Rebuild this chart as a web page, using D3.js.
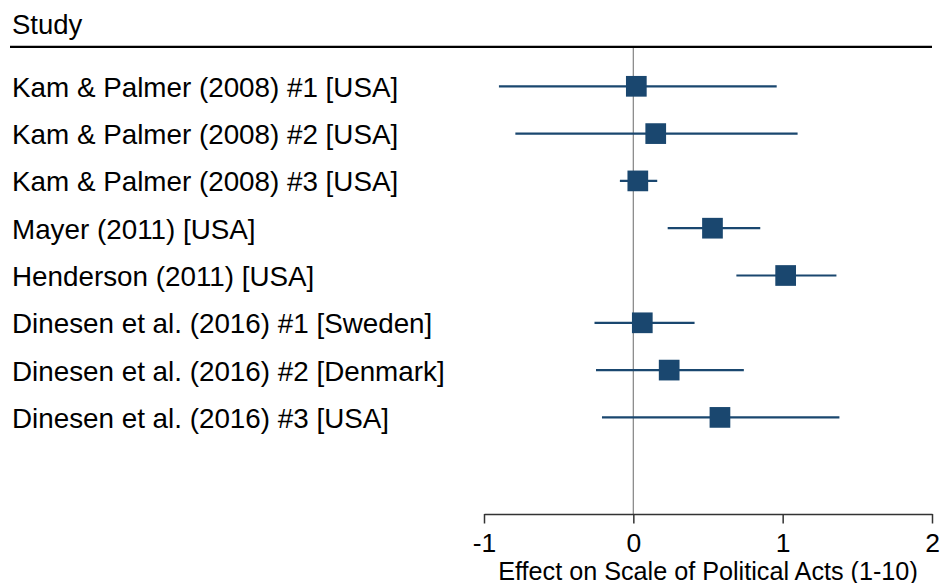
<!DOCTYPE html>
<html>
<head>
<meta charset="utf-8">
<script src="https://cdn.jsdelivr.net/npm/d3@7"></script>
<style>
  html, body { margin: 0; padding: 0; background: #fff; }
  svg { display: block; font-family: "Liberation Sans", Arial, sans-serif; }
</style>
</head>
<body>
<svg id="chart"></svg>
<script>
// study labels, point estimates and confidence bounds
const studies = [
    "Kam & Palmer (2008) #1 [USA]",
    "Kam & Palmer (2008) #2 [USA]",
    "Kam & Palmer (2008) #3 [USA]",
    "Mayer (2011) [USA]",
    "Henderson (2011) [USA]",
    "Dinesen et al. (2016) #1 [Sweden]",
    "Dinesen et al. (2016) #2 [Denmark]",
    "Dinesen et al. (2016) #3 [USA]"
];
const estimates = [0.02, 0.15, 0.03, 0.53, 1.02, 0.06, 0.24, 0.58];
const lower = [-0.90, -0.79, -0.09, 0.23, 0.69, -0.26, -0.25, -0.21];
const upper = [0.96, 1.10, 0.16, 0.85, 1.36, 0.41, 0.74, 1.38];
const xTicks = [-1, 0, 1, 2];

const width = 940, height = 583;
const navy = "#1a476f";

const svg = d3.select("#chart")
    .attr("width", width)
    .attr("height", height);

const x = d3.scaleLinear()
    .domain([-1, 2])
    .range([484, 932]);

// rows 8 and 9 are left empty above the axis
const y = d3.scaleLinear()
    .domain([0, 9])
    .range([86.3, 512]);

const axisY = 514;

// header
svg.append("text")
    .attr("x", 12)
    .attr("y", 33.5)
    .attr("font-size", 27.5)
    .attr("fill", "#000")
    .text("Study");

svg.append("line")
    .attr("x1", 10).attr("x2", 932)
    .attr("y1", 46.8).attr("y2", 46.8)
    .attr("stroke", "#000")
    .attr("stroke-width", 2.2);

// reference line at zero
svg.append("line")
    .attr("x1", x(0)).attr("x2", x(0))
    .attr("y1", 48).attr("y2", axisY)
    .attr("stroke", "#8c8c8c")
    .attr("stroke-width", 1.3);

// study labels
svg.append("g")
    .selectAll("text")
    .data(studies)
    .join("text")
    .attr("x", 12)
    .attr("y", (d, i) => y(i) + 10.5)
    .attr("font-size", 27.8)
    .attr("fill", "#000")
    .text(d => d);

const rows = studies.map((s, i) => ({
    i: i, est: estimates[i], lo: lower[i], hi: upper[i]
}));

// confidence intervals
svg.append("g")
    .selectAll("line")
    .data(rows)
    .join("line")
    .attr("x1", d => x(d.lo))
    .attr("x2", d => x(d.hi))
    .attr("y1", d => y(d.i))
    .attr("y2", d => y(d.i))
    .attr("stroke", navy)
    .attr("stroke-width", 2.2);

// point estimates
const sq = 20.7;
svg.append("g")
    .selectAll("rect")
    .data(rows)
    .join("rect")
    .attr("x", d => x(d.est) - sq / 2)
    .attr("y", d => y(d.i) - sq / 2)
    .attr("width", sq)
    .attr("height", sq)
    .attr("fill", navy);

// x axis
const xAxis = d3.axisBottom(x)
    .tickValues(xTicks)
    .tickFormat(d => String(d))
    .tickSize(9.5)
    .tickSizeOuter(0);

const xAxisGroup = svg.append("g")
    .attr("class", "x-axis")
    .attr("transform", `translate(0, ${axisY})`)
    .call(xAxis);

xAxisGroup.select(".domain")
    .attr("stroke", "#333")
    .attr("stroke-width", 1.5);
xAxisGroup.selectAll(".tick line")
    .attr("stroke", "#333")
    .attr("stroke-width", 1.5);
xAxisGroup.selectAll(".tick text")
    .attr("font-family", "Liberation Sans, Arial, sans-serif")
    .attr("font-size", 26.5)
    .attr("fill", "#000")
    .attr("dy", null)
    .attr("y", 38);

svg.append("text")
    .attr("x", x(0.5))
    .attr("y", 579.5)
    .attr("text-anchor", "middle")
    .attr("font-size", 25.2)
    .attr("fill", "#000")
    .text("Effect on Scale of Political Acts (1-10)");
</script>
</body>
</html>
